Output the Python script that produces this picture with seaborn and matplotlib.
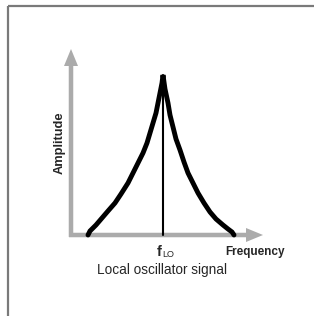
import numpy as np
import pandas as pd
import seaborn as sns
import matplotlib.pyplot as plt

# local oscillator spectrum
# frequency offset from the axis origin, amplitude above the baseline
freq = [17, 19, 25, 31, 37, 44, 50, 57, 62, 67, 72, 76, 79, 82, 85, 87, 89, 91, 92,
        94, 97, 99, 102, 105, 109, 113, 117, 122, 127, 133, 139, 145, 152, 157, 161, 163]
amp = [0, 4, 10, 17, 24, 32, 41, 52, 62, 72, 82, 92, 102, 112, 122, 132, 142, 152, 160,
       146, 132, 120, 108, 96, 85, 73, 62, 52, 42, 32, 23, 16, 10, 6, 3, 0]
f_lo = 92
peak = 160

x_label = 'Frequency'
y_label = 'Amplitude'
title = 'Local oscillator signal'

sns.set_style('white')
plt.rcParams['font.family'] = ['Liberation Sans', 'DejaVu Sans']

fig = plt.figure(figsize=(3.14, 3.16), dpi=100)
ax = fig.add_axes([0, 0, 1, 1])
ax.set_xlim(-71, 243)
ax.set_ylim(-81, 235)
ax.axis('off')

# frame on the left and top
ax.plot([-63, -63], [-81, 229.5], color='#7a7a7a', lw=1.6, solid_capstyle='butt')
ax.plot([-63, 243], [229.5, 229.5], color='#7a7a7a', lw=1.6, solid_capstyle='butt')

# gray axis arrows
grey = '#ababab'
ax.arrow(-2, 0, 194, 0, width=4.5, head_width=14, head_length=17,
         length_includes_head=True, color=grey, lw=0)
ax.arrow(0, -2, 0, 188, width=4.5, head_width=14, head_length=17,
         length_includes_head=True, color=grey, lw=0)

df = pd.DataFrame({'freq': freq, 'amp': amp})
sns.lineplot(data=df, x='freq', y='amp', sort=False, estimator=None,
             color='black', lw=3.5, ax=ax)
ax.lines[-1].set_solid_joinstyle('miter')
ax.plot([f_lo, f_lo], [0, peak], color='black', lw=1.5)

ax.set_xlim(-71, 243)
ax.set_ylim(-81, 235)

ax.text(-11, 92, y_label, rotation=90, ha='center', va='center',
        fontsize=9.3, fontweight='bold')
ax.text(184, -17, x_label, ha='center', va='center', fontsize=8.5, fontweight='bold')
ax.text(f_lo - 4, -17, 'f', ha='center', va='center', fontsize=10.5, fontweight='bold')
ax.text(f_lo - 1, -19.5, 'LO', ha='left', va='center', fontsize=6.5)
ax.text(91, -35, title, ha='center', va='center', fontsize=9.8)

fig.savefig('out.png', dpi=100)
